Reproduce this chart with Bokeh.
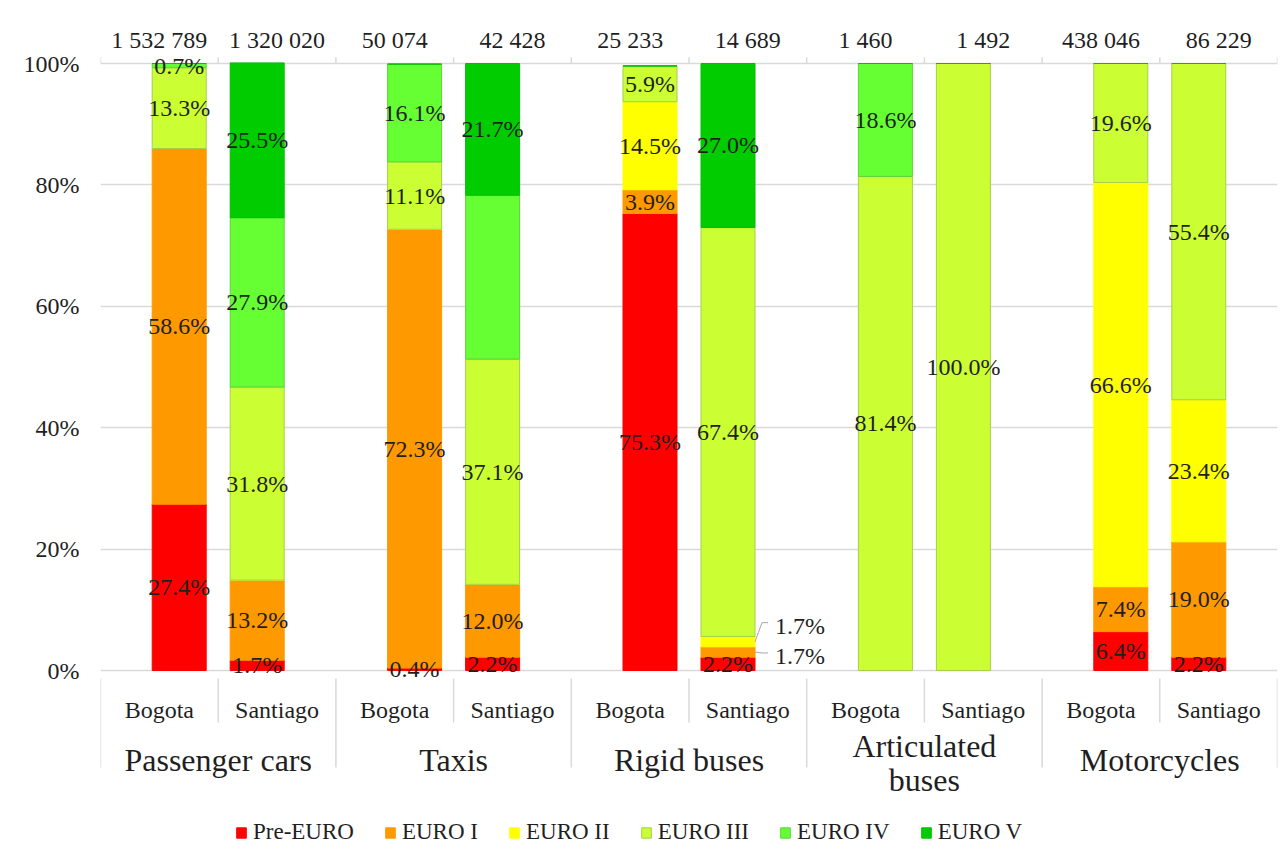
import numpy as np
from bokeh.plotting import figure
from bokeh.models import Range1d, FixedTicker, ColumnDataSource, Legend, LegendItem
from bokeh.core.properties import value
from bokeh.embed import file_html
from bokeh.resources import INLINE

# ---------------- data ----------------
groups = ["Passenger cars", "Taxis", "Rigid buses", "Articulated\nbuses", "Motorcycles"]
cities = ["Bogota", "Santiago"]
totals = ["1 532 789", "1 320 020", "50 074", "42 428", "25 233",
          "14 689", "1 460", "1 492", "438 046", "86 229"]
series = ["Pre-EURO", "EURO I", "EURO II", "EURO III", "EURO IV", "EURO V"]
pre_euro = [27.4, 1.7, 0.4, 2.2, 75.3, 2.2, 0, 0, 6.4, 2.2]
euro_1 = [58.6, 13.2, 72.3, 12.0, 3.9, 1.7, 0, 0, 7.4, 19.0]
euro_2 = [0, 0, 0, 0, 14.5, 1.7, 0, 0, 66.6, 23.4]
euro_3 = [13.3, 31.8, 11.1, 37.1, 5.9, 67.4, 81.4, 100.0, 19.6, 55.4]
euro_4 = [0.7, 27.9, 16.1, 27.0, 0, 0, 18.6, 0, 0, 0]
euro_5 = [0, 25.5, 0, 21.7, 0, 27.0, 0, 0, 0, 0]
y_ticks = [0, 20, 40, 60, 80, 100]

# ---------------- style ----------------
colors = ["#ff0000", "#ff9900", "#ffff00", "#ccff33", "#66ff33", "#00cc00"]
outlines = ["#ff0000", "#ff9900", "#ffff00", "#a3cf4a", "#5fd23a", "#00c000"]
hidden_labels = {(3, 4)}                 # (bar, series) drawn without a label
callout_dy = {(5, 1): 4, (5, 2): -16}    # labels placed outside, px offset
FONT = value("Liberation Serif")
TXT = "#1f1f1f"
GRID = "#d9d9d9"

# page geometry (px)
FIG_W, FIG_H = 1287, 845
FRAME_L, FRAME_R, FRAME_T, FRAME_B = 100, 1277, 2, 845
Y0, Y100 = 670, 63
PX = (Y0 - Y100) / 100.0
ncols = len(totals)
COL_PX = (FRAME_R - FRAME_L) / ncols
BAR_OFF = 39 / COL_PX
BAR_W = 54 / COL_PX


def ypos(page_y):
    return (Y0 - page_y) / PX


def dx(px):
    return px / COL_PX


p = figure(width=FIG_W, height=FIG_H, output_backend="svg", toolbar_location=None,
           title=None, x_axis_location=None,
           x_range=Range1d(0, ncols), y_range=Range1d(ypos(FRAME_B), ypos(FRAME_T)),
           min_border_left=FRAME_L, min_border_right=FIG_W - FRAME_R,
           min_border_top=FRAME_T, min_border_bottom=FIG_H - FRAME_B)
p.outline_line_color = None
p.background_fill_color = "white"
p.border_fill_color = "white"

p.yaxis.ticker = FixedTicker(ticks=y_ticks)
p.yaxis.major_label_overrides = {t: f"{t}%" for t in y_ticks}
p.yaxis.axis_line_color = None
p.yaxis.major_tick_line_color = None
p.yaxis.minor_tick_line_color = None
p.yaxis.major_tick_out = 0
p.yaxis.major_tick_in = 0
p.yaxis.major_label_standoff = 21
p.yaxis.major_label_text_font = "Liberation Serif"
p.yaxis.major_label_text_font_size = "24px"
p.yaxis.major_label_text_color = TXT
p.ygrid.grid_line_color = GRID
p.ygrid.grid_line_width = 1.5
p.xgrid.visible = False

# bars
xs = [2 * (i // 2) + 1 + (-BAR_OFF if i % 2 == 0 else BAR_OFF) for i in range(ncols)]
vals = [pre_euro, euro_1, euro_2, euro_3, euro_4, euro_5]
data = {"x": xs}
for name, v in zip(series, vals):
    data[name] = v
src = ColumnDataSource(data)
rends = p.vbar_stack(series, x="x", width=BAR_W, source=src,
                     fill_color=colors, line_color=outlines, line_width=1)

# segment labels
arr = np.array(vals, dtype=float)
bottoms = np.vstack([np.zeros(ncols), np.cumsum(arr, axis=0)[:-1]])
lx, ly, lt = [], [], []
cx, cy, ct = [], [], []
leader_xs, leader_ys = [], []
for j in range(len(series)):
    for i in range(ncols):
        v = arr[j, i]
        if v <= 0 or (i, j) in hidden_labels:
            continue
        mid = bottoms[j, i] + v / 2
        if (i, j) in callout_dy:
            right = xs[i] + BAR_W / 2
            ly_lab = mid - callout_dy[(i, j)] / PX
            cx.append(right + dx(20))
            cy.append(ly_lab)
            ct.append(f"{v:.1f}%")
            yl = ly_lab + 3 / PX
            leader_xs.append([right, right + dx(7), right + dx(13)])
            leader_ys.append([mid, yl, yl])
        else:
            lx.append(xs[i]); ly.append(mid); lt.append(f"{v:.1f}%")
p.text(x=lx, y=ly, text=lt, text_font=FONT, text_font_size="24px",
       text_color=TXT, text_align="center", text_baseline="middle")
p.multi_line(xs=leader_xs, ys=leader_ys, line_color="#a6a6a6", line_width=1)
p.text(x=cx, y=cy, text=ct, text_font=FONT, text_font_size="24px",
       text_color=TXT, text_align="left", text_baseline="middle")

# top totals axis
ks = list(range(ncols + 1))
p.segment(x0=ks, x1=ks, y0=[100] * len(ks), y1=[100 + 6 / PX] * len(ks),
          line_color=GRID, line_width=1.5)
centers = [k + 0.5 for k in range(ncols)]
p.text(x=centers, y=[ypos(39)] * ncols, text=totals, text_font=FONT,
       text_font_size="24px", text_color=TXT, text_align="center",
       text_baseline="middle")

# bottom category axis
sep_y1 = [ypos(767) if k % 2 == 0 else ypos(722) for k in ks]
p.segment(x0=ks, x1=ks, y0=[ypos(678)] * len(ks), y1=sep_y1,
          line_color=GRID, line_width=1.5)
p.text(x=centers, y=[ypos(709)] * ncols, text=[cities[k % 2] for k in range(ncols)],
       text_font=FONT, text_font_size="24px", text_color=TXT,
       text_align="center", text_baseline="middle")
gx, gy, gt = [], [], []
for g, name in enumerate(groups):
    lines = name.split("\n")
    for li, line in enumerate(lines):
        gx.append(2 * g + 1)
        gy.append(ypos(759 - (len(lines) - 1) * 14 + li * 34))
        gt.append(line)
p.text(x=gx, y=gy, text=gt, text_font=FONT, text_font_size="32px",
       text_color=TXT, text_align="center", text_baseline="middle")

# legend
legend = Legend(items=[LegendItem(label=s, renderers=[r]) for s, r in zip(series, rends)],
                orientation="horizontal", location=(135, 0),
                label_text_font="Liberation Serif", label_text_font_size="23px",
                label_text_color=TXT, glyph_width=12, glyph_height=13,
                label_standoff=6, spacing=30, padding=0, margin=0,
                border_line_alpha=0, background_fill_alpha=0, label_height=16)
p.add_layout(legend, "center")

open("out.html", "w").write(file_html(p, INLINE))
